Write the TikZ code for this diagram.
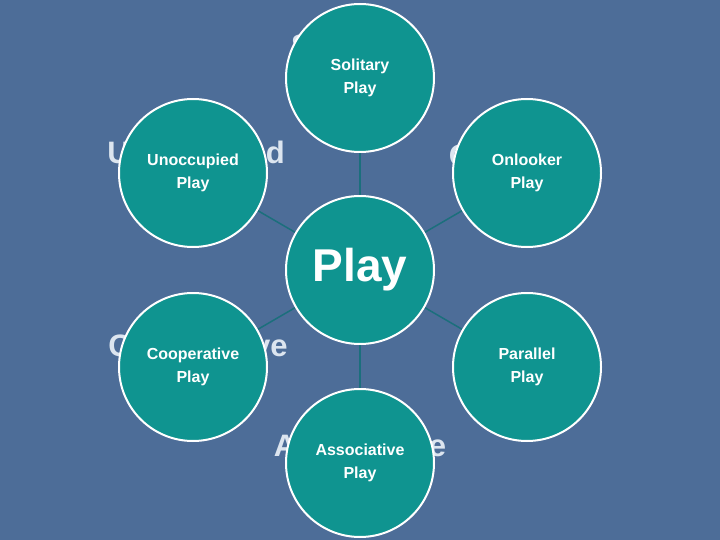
\documentclass[tikz,border=0pt]{standalone}
\usepackage{fontspec}
\setmainfont{Liberation Sans}
\definecolor{bg}{HTML}{4D6D98}
\definecolor{teal1}{HTML}{0F9490}
\definecolor{edge}{HTML}{1B6F7C}
\definecolor{ghost}{HTML}{DCE5EF}
\begin{document}
\begin{tikzpicture}[x=1pt,y=-1pt,
  bubble/.style={circle,fill=teal1,draw=white,line width=2pt,minimum size=148pt,inner sep=0pt,text=white,align=center,font=\fontsize{16}{23}\selectfont\bfseries},
  ghosttext/.style={text=ghost,font=\fontsize{31}{34}\selectfont\bfseries},
  link/.style={edge,line width=1.5pt}]
\fill[bg] (0,0) rectangle (720,540);
\useasboundingbox (0,0) rectangle (720,540);
\node[ghosttext] (g1) at (348,48) {Solitary};
\node[ghosttext] (g2) at (196,155) {Unoccupied};
\node[ghosttext] (g3) at (517,155) {Onlooker};
\node[ghosttext] (g4) at (198,348) {Cooperative};
\node[ghosttext] (g5) at (527,348) {Parallel};
\node[ghosttext] (g6) at (360,445) {Associative};
\coordinate (c) at (360,270);
\foreach \p in {(360,76),(193,173),(527,173),(193,367),(527,367),(360,463)}
  \draw[link] (c) -- \p;
\node[bubble] (sol) at (360,78) {Solitary\\Play};
\node[bubble] (uno) at (193,173) {Unoccupied\\Play};
\node[bubble] (onl) at (527,173) {Onlooker\\Play};
\node[bubble] (coo) at (193,367) {Cooperative\\Play};
\node[bubble] (par) at (527,367) {Parallel\\Play};
\node[bubble] (ass) at (360,463) {Associative\\Play};
\node[bubble,font=\fontsize{46}{50}\selectfont\bfseries] (play) at (360,270) {Play};
\end{tikzpicture}
\end{document}
